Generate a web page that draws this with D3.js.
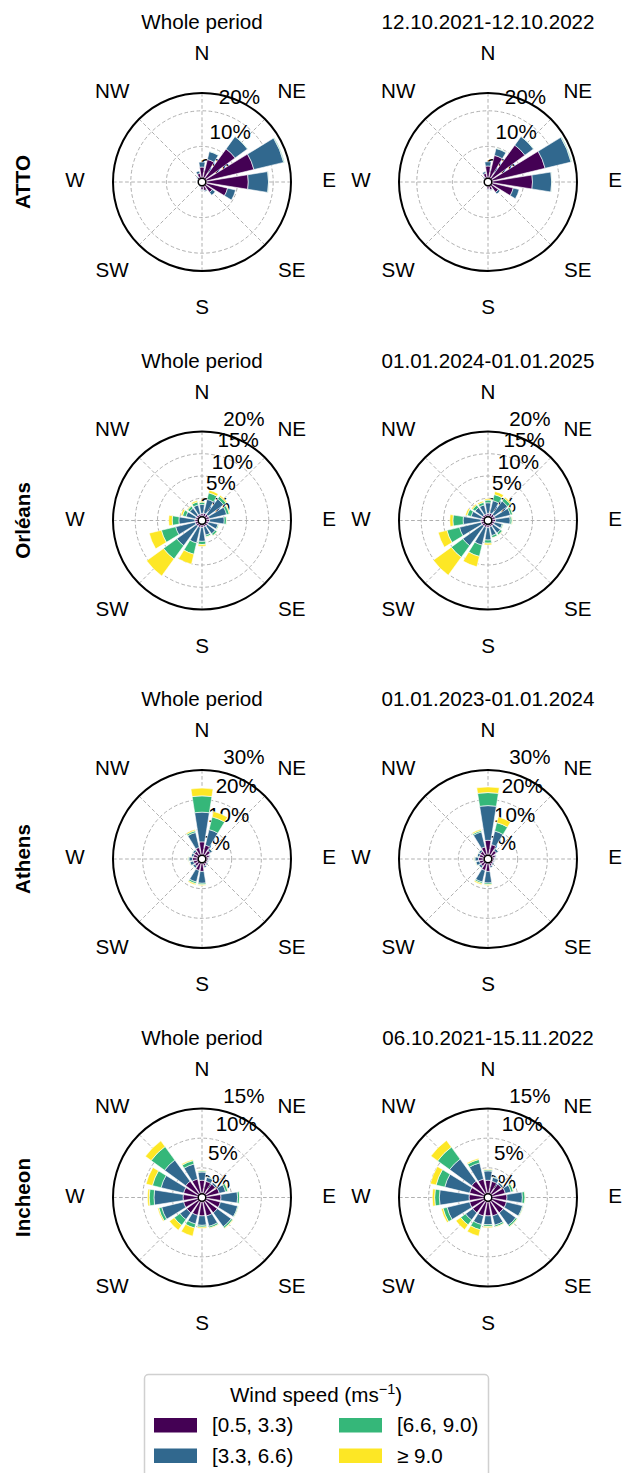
<!DOCTYPE html>
<html>
<head>
<meta charset="utf-8">
<script src="https://cdn.jsdelivr.net/npm/d3@7"></script>
<style>
  body { margin: 0; background: #fff; }
  text { font-family: "Liberation Sans", Arial, Helvetica, sans-serif; fill: #000; }
</style>
</head>
<body>
<svg id="chart" width="622" height="1473"></svg>
<script>
/* wind roses, 4 sites x 2 periods */

const sectors = ['N', 'NNE', 'NE', 'ENE', 'E', 'ESE', 'SE', 'SSE', 'S', 'SSW', 'SW', 'WSW', 'W', 'WNW', 'NW', 'NNW']
const compass = ['N', 'NE', 'E', 'SE', 'S', 'SW', 'W', 'NW']
const speedBins = ['[0.5, 3.3)', '[3.3, 6.6)', '[6.6, 9.0)', '\u2265 9.0']
const binColors = ['#440154', '#31688e', '#35b779', '#fde725']
const sites = ['ATTO', 'Orléans', 'Athens', 'Incheon']
const periodTitles = [
  ['Whole period', '12.10.2021-12.10.2022'],
  ['Whole period', '01.01.2024-01.01.2025'],
  ['Whole period', '01.01.2023-01.01.2024'],
  ['Whole period', '06.10.2021-15.11.2022']
]
const radialTicks = [[0, 10, 20], [0, 5, 10, 15, 20], [0, 10, 20, 30], [0, 5, 10, 15]]
const radialMax = [25, 20, 30, 15]

// frequency in %, one list per speed bin, in the order of sectors
const attoWhole = [
  [4.2, 6.5, 11.5, 15.0, 13.0, 7.4, 3.6, 2.5, 2.2, 1.3, 1.1, 1.0, 1.0, 1.2, 1.6, 2.5],
  [1.4, 2.3, 4.3, 8.6, 5.7, 2.3, 1.0, 0.3, 0.2, 0.2, 0.1, 0.1, 0.1, 0.2, 0.3, 0.7],
  [0.0, 0.1, 0.1, 0.2, 0.1, 0.0, 0.0, 0.0, 0.0, 0.0, 0.0, 0.0, 0.0, 0.0, 0.0, 0.0],
  [0.0, 0.0, 0.0, 0.0, 0.0, 0.0, 0.0, 0.0, 0.0, 0.0, 0.0, 0.0, 0.0, 0.0, 0.0, 0.0]
]
const attoYear = [
  [4.5, 7.7, 12.8, 16.5, 12.5, 7.3, 3.6, 2.3, 2.0, 1.2, 1.0, 0.9, 0.9, 1.1, 1.5, 2.5],
  [1.2, 2.0, 3.0, 7.5, 5.4, 1.7, 0.6, 0.2, 0.2, 0.1, 0.1, 0.1, 0.1, 0.2, 0.2, 0.5],
  [0.0, 0.1, 0.1, 0.2, 0.1, 0.0, 0.0, 0.0, 0.0, 0.0, 0.0, 0.0, 0.0, 0.0, 0.0, 0.0],
  [0.0, 0.0, 0.0, 0.0, 0.0, 0.0, 0.0, 0.0, 0.0, 0.0, 0.0, 0.0, 0.0, 0.0, 0.0, 0.0]
]
const orleansWhole = [
  [1.6, 1.7, 1.7, 1.7, 1.7, 1.5, 1.5, 1.5, 1.6, 1.6, 1.6, 1.6, 1.6, 1.5, 1.5, 1.5],
  [2.0, 3.2, 4.3, 4.0, 3.3, 2.2, 2.2, 1.9, 3.1, 3.6, 5.4, 4.5, 3.6, 2.2, 1.9, 2.1],
  [0.5, 1.5, 0.7, 0.6, 0.5, 0.25, 0.5, 0.4, 0.7, 2.6, 3.7, 3.3, 1.5, 0.8, 0.6, 0.7],
  [0.2, 0.6, 0.3, 0.2, 0.1, 0.05, 0.1, 0.1, 0.4, 2.3, 4.7, 2.8, 0.8, 0.4, 0.2, 0.3]
]
const orleansYear = [
  [1.6, 1.7, 1.7, 1.7, 1.7, 1.5, 1.5, 1.5, 1.6, 1.6, 1.6, 1.6, 1.6, 1.5, 1.5, 1.5],
  [2.4, 2.9, 3.7, 3.5, 3.3, 1.8, 2.0, 2.0, 2.8, 4.1, 5.4, 5.0, 4.0, 2.4, 2.1, 2.1],
  [0.6, 1.4, 0.8, 0.5, 0.4, 0.25, 0.5, 0.5, 0.7, 2.6, 3.2, 2.9, 2.3, 0.9, 0.7, 0.6],
  [0.3, 0.7, 0.3, 0.1, 0.1, 0.05, 0.1, 0.1, 0.4, 2.4, 5.0, 2.0, 0.7, 0.4, 0.3, 0.3]
]
const athensWhole = [
  [5.8, 4.8, 3.5, 2.6, 2.2, 2.0, 2.1, 2.5, 4.2, 4.0, 3.0, 3.0, 3.2, 3.0, 3.2, 4.0],
  [10.0, 5.4, 0.8, 0.35, 0.3, 0.3, 0.4, 0.5, 4.0, 4.0, 0.8, 1.2, 1.2, 0.8, 0.7, 5.2],
  [5.5, 4.4, 0.15, 0.05, 0.0, 0.0, 0.0, 0.0, 0.5, 0.6, 0.15, 0.2, 0.3, 0.15, 0.1, 0.6],
  [2.6, 1.9, 0.05, 0.0, 0.0, 0.0, 0.0, 0.0, 0.3, 0.4, 0.05, 0.1, 0.1, 0.05, 0.0, 0.4]
]
const athensYear = [
  [6.3, 5.0, 3.5, 2.6, 2.2, 2.0, 2.1, 2.5, 4.2, 4.0, 3.0, 3.0, 3.2, 3.0, 3.2, 4.2],
  [11.7, 4.7, 0.8, 0.35, 0.3, 0.3, 0.4, 0.5, 3.9, 4.0, 0.8, 1.2, 1.2, 0.8, 0.7, 5.2],
  [4.4, 2.9, 0.15, 0.05, 0.0, 0.0, 0.0, 0.0, 0.5, 0.5, 0.15, 0.2, 0.3, 0.15, 0.1, 0.5],
  [1.9, 2.0, 0.05, 0.0, 0.0, 0.0, 0.0, 0.0, 0.3, 0.4, 0.05, 0.1, 0.1, 0.05, 0.0, 0.4]
]
const incheonWhole = [
  [2.9, 2.8, 2.8, 3.0, 3.2, 3.2, 3.2, 3.2, 3.1, 3.1, 3.2, 3.2, 3.2, 3.2, 3.4, 3.2],
  [1.4, 0.7, 0.35, 1.1, 2.8, 3.0, 2.9, 1.8, 1.6, 1.5, 1.4, 3.8, 4.9, 3.9, 4.4, 2.6],
  [0.2, 0.1, 0.05, 0.4, 0.35, 0.15, 0.3, 0.3, 0.3, 0.7, 1.2, 0.5, 0.8, 1.5, 2.8, 0.6],
  [0.1, 0.0, 0.0, 0.1, 0.05, 0.05, 0.1, 0.1, 0.2, 1.4, 1.0, 0.2, 0.3, 1.1, 1.2, 0.2]
]
const incheonYear = [
  [2.9, 2.8, 2.8, 3.0, 3.2, 3.2, 3.2, 3.2, 3.1, 3.2, 3.2, 3.2, 3.2, 3.2, 3.4, 3.2],
  [1.6, 0.7, 0.35, 1.0, 2.6, 2.8, 2.6, 1.6, 1.5, 1.5, 1.5, 3.9, 5.0, 4.3, 4.6, 2.8],
  [0.2, 0.1, 0.05, 0.4, 0.45, 0.15, 0.3, 0.3, 0.3, 0.9, 1.0, 0.7, 0.8, 1.5, 2.5, 0.6],
  [0.1, 0.0, 0.0, 0.1, 0.05, 0.05, 0.1, 0.1, 0.2, 1.1, 1.0, 0.3, 0.4, 1.0, 1.4, 0.2]
]

const roseData = [
  [attoWhole, attoYear],
  [orleansWhole, orleansYear],
  [athensWhole, athensYear],
  [incheonWhole, incheonYear]
]

const colX = [202, 488]
const rowY0 = 182
const rowStep = 338.5
const R = 89
const fontSize = 20.6
const deg = Math.PI / 180

const svg = d3.select('#chart')
svg.append('rect').attr('width', 622).attr('height', 1473).attr('fill', '#fff')

// angular band per sector, centred on its compass direction
const step = 2 * Math.PI / sectors.length
const theta = d3.scaleBand()
  .domain(sectors)
  .range([-step / 2, 2 * Math.PI - step / 2])
  .paddingInner(0.2)
  .paddingOuter(0.1)

const drawRose = (row, col) => {
  const cx = colX[col]
  const cy = rowY0 + row * rowStep
  const values = roseData[row][col]
  const rmax = radialMax[row]
  const ticks = radialTicks[row]
  const r = d3.scaleLinear().domain([0, rmax]).range([0, R])
  const g = svg.append('g').attr('transform', `translate(${cx},${cy})`)

  // grid
  compass.forEach((c, i) => {
    const a = i * 45 * deg
    g.append('line')
      .attr('x1', 0).attr('y1', 0)
      .attr('x2', R * Math.sin(a)).attr('y2', -R * Math.cos(a))
      .attr('stroke', '#b0b0b0').attr('stroke-width', 1)
      .attr('stroke-dasharray', '3.7,2.4')
  })
  ticks.filter(t => t > 0 && t < rmax).forEach(t => {
    g.append('circle').attr('r', r(t))
      .attr('fill', 'none').attr('stroke', '#b0b0b0').attr('stroke-width', 1)
      .attr('stroke-dasharray', '3.7,2.4')
  })

  // radial tick labels
  const la = 15 * deg
  ticks.forEach(t => {
    g.append('text')
      .attr('x', -1.7 + r(t) * Math.sin(la))
      .attr('y', -8.8 - r(t) * Math.cos(la))
      .attr('font-size', fontSize)
      .text(t + '%')
  })

  // stacked bars
  const table = sectors.map((s, i) => {
    const row = { sector: s }
    speedBins.forEach((b, k) => { row[b] = values[k][i] })
    return row
  })
  const series = d3.stack().keys(speedBins)(table)
  const arc = d3.arc()
    .innerRadius(d => r(d[0]))
    .outerRadius(d => r(d[1]))
    .startAngle(d => theta(d.data.sector))
    .endAngle(d => theta(d.data.sector) + theta.bandwidth())
  series.forEach((s, k) => {
    g.append('g').selectAll('path')
      .data(s.filter(d => d[1] > d[0]))
      .join('path')
      .attr('d', arc)
      .attr('fill', binColors[k])
      .attr('stroke', '#fff')
      .attr('stroke-width', 0.6)
  })

  // calm circle and frame
  g.append('circle').attr('r', 3.8).attr('fill', '#fff').attr('stroke', '#000').attr('stroke-width', 1.5)
  g.append('circle').attr('r', R).attr('fill', 'none').attr('stroke', '#000').attr('stroke-width', 2)

  // compass labels
  compass.forEach((c, i) => {
    const a = i * 45 * deg
    g.append('text')
      .attr('x', 127 * Math.sin(a))
      .attr('y', -127 * Math.cos(a) - 2 + 7.4)
      .attr('text-anchor', 'middle')
      .attr('font-size', fontSize)
      .text(c)
  })

  // title
  g.append('text')
    .attr('x', 0).attr('y', -153)
    .attr('text-anchor', 'middle')
    .attr('font-size', fontSize)
    .text(periodTitles[row][col])
}

sites.forEach((site, row) => {
  colX.forEach((x, col) => drawRose(row, col))
  const cy = rowY0 + row * rowStep
  svg.append('text')
    .attr('transform', `translate(30,${cy}) rotate(-90)`)
    .attr('text-anchor', 'middle')
    .attr('font-size', fontSize)
    .attr('font-weight', 'bold')
    .text(site)
})

// legend
const legend = svg.append('g')
legend.append('rect')
  .attr('x', 144.5).attr('y', 1374.5)
  .attr('width', 344).attr('height', 120)
  .attr('rx', 4)
  .attr('fill', '#fff').attr('stroke', '#d0d0d0').attr('stroke-width', 1.5)
const lt = legend.append('text')
  .attr('x', 316).attr('y', 1402)
  .attr('text-anchor', 'middle')
  .attr('font-size', fontSize)
lt.append('tspan').text('Wind speed (ms')
lt.append('tspan').attr('dy', -8).attr('font-size', 14.5).text('\u22121')
lt.append('tspan').attr('dy', 8).text(')')

const legX = [154, 339]
const legY = [1418, 1448.5]
speedBins.forEach((b, k) => {
  const x = legX[Math.floor(k / 2)]
  const y = legY[k % 2]
  legend.append('rect')
    .attr('x', x).attr('y', y)
    .attr('width', 43).attr('height', 14.5)
    .attr('fill', binColors[k])
  legend.append('text')
    .attr('x', x + 58).attr('y', y + 14)
    .attr('font-size', fontSize)
    .text(b)
})
</script>
</body>
</html>
